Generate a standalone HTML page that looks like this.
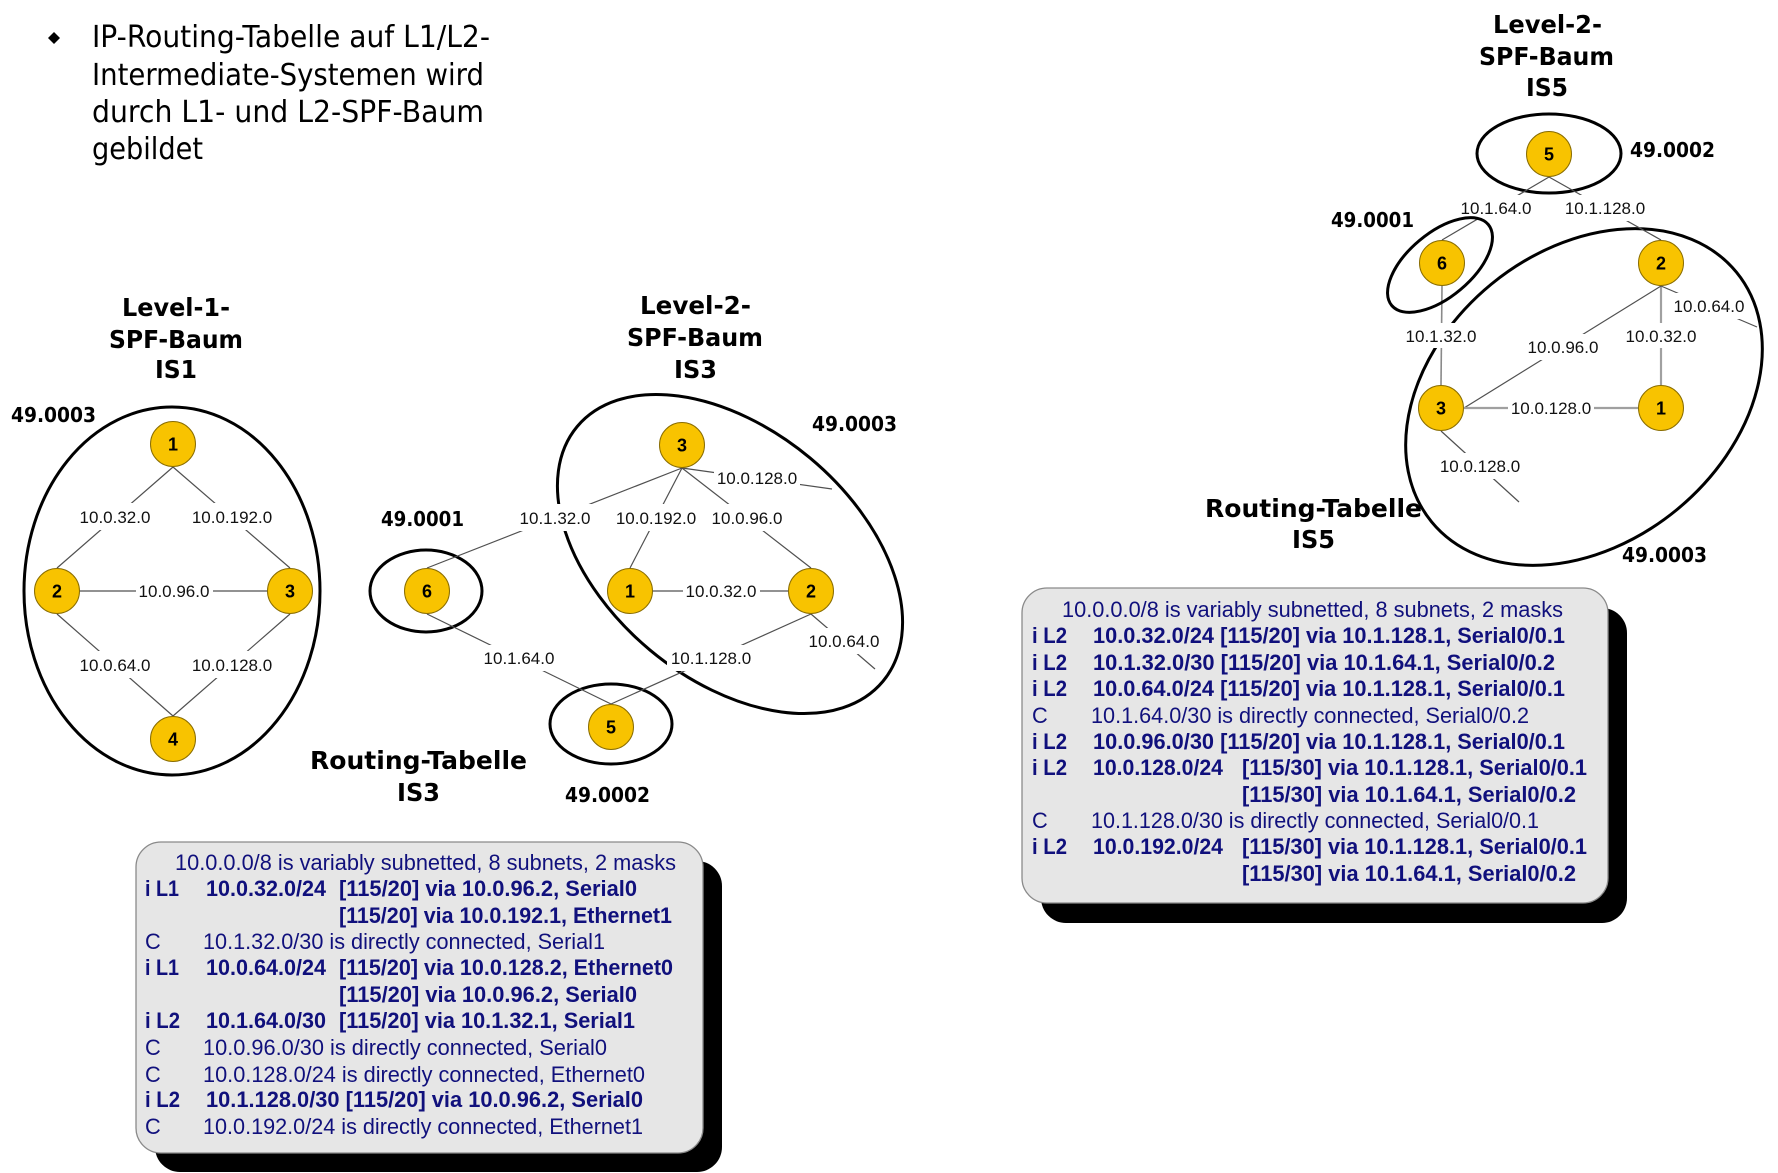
<!DOCTYPE html>
<html>
<head>
<meta charset="utf-8">
<style>
  html, body { margin: 0; padding: 0; background: #fff; }
  svg { display: block; }
  .lbl { font-family: "Liberation Sans", Arial, sans-serif; font-size: 17px; fill: #111; text-anchor: middle; }
  .num { font-family: "Liberation Sans", Arial, sans-serif; font-size: 18px; font-weight: bold; fill: #000; text-anchor: middle; }
  .hd { font-family: "DejaVu Sans", "Liberation Sans", sans-serif; font-size: 25px; font-weight: bold; fill: #000; }
  .area { font-family: "DejaVu Sans", "Liberation Sans", sans-serif; font-size: 20px; font-weight: bold; fill: #000; }
  .title { font-family: "DejaVu Sans", "Liberation Sans", sans-serif; font-size: 30px; fill: #000; }
  .bx { font-family: "Liberation Sans", Arial, sans-serif; font-size: 21.8px; fill: #10107c; }
  .bb { font-family: "Liberation Sans", Arial, sans-serif; font-size: 21.8px; font-weight: bold; fill: #10107c; }
  .edge { stroke: #505050; stroke-width: 1.2; fill: none; }
  .edgeg { stroke: #a0a0a0; stroke-width: 2.2; fill: none; }
  .ell { stroke: #000; stroke-width: 3; fill: none; }
  .node { fill: #F8C300; stroke: #8a6d00; stroke-width: 1; }
  .lr { fill: #fff; }
</style>
</head>
<body>
<svg width="1778" height="1173" viewBox="0 0 1778 1173" xmlns="http://www.w3.org/2000/svg">
  <rect x="0" y="0" width="1778" height="1173" fill="#fff"/>

  <!-- Title -->
  <polygon points="54,32 60,38 54,44 48,38" fill="#000"/>
  <text class="title" x="92" y="47" textLength="398" lengthAdjust="spacingAndGlyphs">IP-Routing-Tabelle auf L1/L2-</text>
  <text class="title" x="92" y="85" textLength="392" lengthAdjust="spacingAndGlyphs">Intermediate-Systemen wird</text>
  <text class="title" x="92" y="122" textLength="392" lengthAdjust="spacingAndGlyphs">durch L1- und L2-SPF-Baum</text>
  <text class="title" x="92" y="159" textLength="111" lengthAdjust="spacingAndGlyphs">gebildet</text>

  <!-- Headings -->
  <text class="hd" x="122" y="316" textLength="108" lengthAdjust="spacingAndGlyphs">Level-1-</text>
  <text class="hd" x="109" y="348" textLength="134" lengthAdjust="spacingAndGlyphs">SPF-Baum</text>
  <text class="hd" x="155" y="378" textLength="42" lengthAdjust="spacingAndGlyphs">IS1</text>

  <text class="hd" x="640" y="314" textLength="111" lengthAdjust="spacingAndGlyphs">Level-2-</text>
  <text class="hd" x="627" y="346" textLength="136" lengthAdjust="spacingAndGlyphs">SPF-Baum</text>
  <text class="hd" x="674" y="378" textLength="43" lengthAdjust="spacingAndGlyphs">IS3</text>

  <text class="hd" x="1493" y="33" textLength="109" lengthAdjust="spacingAndGlyphs">Level-2-</text>
  <text class="hd" x="1479" y="65" textLength="135" lengthAdjust="spacingAndGlyphs">SPF-Baum</text>
  <text class="hd" x="1526" y="96" textLength="42" lengthAdjust="spacingAndGlyphs">IS5</text>

  <text class="hd" x="310" y="769" textLength="217" lengthAdjust="spacingAndGlyphs">Routing-Tabelle</text>
  <text class="hd" x="397" y="801" textLength="43" lengthAdjust="spacingAndGlyphs">IS3</text>

  <text class="hd" x="1205" y="517" textLength="217" lengthAdjust="spacingAndGlyphs">Routing-Tabelle</text>
  <text class="hd" x="1292" y="548" textLength="43" lengthAdjust="spacingAndGlyphs">IS5</text>

  <!-- Area labels -->
  <text class="area" x="11" y="422" textLength="85" lengthAdjust="spacingAndGlyphs">49.0003</text>
  <text class="area" x="381" y="526" textLength="83" lengthAdjust="spacingAndGlyphs">49.0001</text>
  <text class="area" x="812" y="431" textLength="85" lengthAdjust="spacingAndGlyphs">49.0003</text>
  <text class="area" x="565" y="802" textLength="85" lengthAdjust="spacingAndGlyphs">49.0002</text>
  <text class="area" x="1630" y="157" textLength="85" lengthAdjust="spacingAndGlyphs">49.0002</text>
  <text class="area" x="1331" y="227" textLength="83" lengthAdjust="spacingAndGlyphs">49.0001</text>
  <text class="area" x="1622" y="562" textLength="85" lengthAdjust="spacingAndGlyphs">49.0003</text>

  <!-- Ellipses (area boundaries) -->
  <ellipse class="ell" cx="172" cy="591" rx="148" ry="184"/>
  <ellipse class="ell" cx="426" cy="591" rx="56" ry="41"/>
  <ellipse class="ell" cx="611" cy="724" rx="61" ry="40"/>
  <ellipse class="ell" cx="730" cy="554" rx="199" ry="125" transform="rotate(39.8 730 554)"/>
  <ellipse class="ell" cx="1549" cy="153.5" rx="72" ry="39.5"/>
  <ellipse class="ell" cx="1584" cy="397" rx="197" ry="146" transform="rotate(-39.3 1584 397)"/>

  <!-- Left graph edges -->
  <line class="edge" x1="173" y1="467" x2="57" y2="568"/>
  <line class="edge" x1="173" y1="467" x2="290" y2="568"/>
  <line class="edge" x1="57" y1="591" x2="290" y2="591"/>
  <line class="edge" x1="57" y1="614" x2="173" y2="716"/>
  <line class="edge" x1="290" y1="614" x2="173" y2="716"/>

  <!-- Middle graph edges -->
  <line class="edge" x1="682" y1="468" x2="427" y2="568"/>
  <line class="edge" x1="682" y1="468" x2="630" y2="568"/>
  <line class="edge" x1="682" y1="468" x2="811" y2="568"/>
  <line class="edge" x1="682" y1="468" x2="832" y2="489"/>
  <line class="edge" x1="630" y1="591" x2="811" y2="591"/>
  <line class="edge" x1="811" y1="614" x2="875" y2="669"/>
  <line class="edge" x1="811" y1="614" x2="611" y2="704"/>
  <line class="edge" x1="427" y1="614" x2="611" y2="704"/>

  <!-- Right graph edges -->
  <line class="edge" x1="1549" y1="177" x2="1442" y2="240"/>
  <line class="edge" x1="1549" y1="177" x2="1661" y2="240"/>
  <line x1="1442" y1="286" x2="1441" y2="385" stroke="#8a8a8a" stroke-width="1.6"/>
  <line class="edgeg" x1="1661" y1="286" x2="1661" y2="385"/>
  <line class="edge" x1="1661" y1="286" x2="1464" y2="408"/>
  <line class="edge" x1="1661" y1="286" x2="1757" y2="327"/>
  <line class="edgeg" x1="1464" y1="408" x2="1638" y2="408"/>
  <line class="edge" x1="1441" y1="431" x2="1519" y2="502"/>

  <!-- Label backgrounds -->
  <g class="lr">
    <!-- left -->
    <rect x="77" y="503" width="77" height="27"/>
    <rect x="189" y="503" width="86" height="27"/>
    <rect x="136" y="578" width="77" height="26"/>
    <rect x="77" y="651" width="77" height="27"/>
    <rect x="189" y="651" width="86" height="27"/>
    <!-- middle -->
    <rect x="517" y="504" width="77" height="27"/>
    <rect x="613" y="504" width="86" height="27"/>
    <rect x="709" y="504" width="77" height="27"/>
    <rect x="714" y="465" width="86" height="26"/>
    <rect x="683" y="578" width="77" height="26"/>
    <rect x="806" y="628" width="77" height="26"/>
    <rect x="667" y="645" width="88" height="26"/>
    <rect x="481" y="645" width="77" height="26"/>
    <!-- right -->
    <rect x="1458" y="195" width="77" height="24"/>
    <rect x="1562" y="195" width="86" height="26"/>
    <rect x="1403" y="323" width="77" height="25"/>
    <rect x="1623" y="323" width="77" height="25"/>
    <rect x="1525" y="334" width="77" height="26"/>
    <rect x="1671" y="293" width="77" height="26"/>
    <rect x="1508" y="395" width="86" height="26"/>
    <rect x="1437" y="453" width="86" height="26"/>
  </g>

  <!-- ellipse around 6 (right) drawn after label backgrounds -->
  <ellipse class="ell" cx="1440" cy="265" rx="63" ry="32" transform="rotate(-40 1440 265)"/>

  <!-- Edge labels -->
  <text class="lbl" x="115" y="523">10.0.32.0</text>
  <text class="lbl" x="232" y="523">10.0.192.0</text>
  <text class="lbl" x="174" y="597">10.0.96.0</text>
  <text class="lbl" x="115" y="671">10.0.64.0</text>
  <text class="lbl" x="232" y="671">10.0.128.0</text>

  <text class="lbl" x="555" y="524">10.1.32.0</text>
  <text class="lbl" x="656" y="524">10.0.192.0</text>
  <text class="lbl" x="747" y="524">10.0.96.0</text>
  <text class="lbl" x="757" y="484">10.0.128.0</text>
  <text class="lbl" x="721" y="597">10.0.32.0</text>
  <text class="lbl" x="844" y="647">10.0.64.0</text>
  <text class="lbl" x="711" y="664">10.1.128.0</text>
  <text class="lbl" x="519" y="664">10.1.64.0</text>

  <text class="lbl" x="1496" y="214">10.1.64.0</text>
  <text class="lbl" x="1605" y="214">10.1.128.0</text>
  <text class="lbl" x="1441" y="342">10.1.32.0</text>
  <text class="lbl" x="1661" y="342">10.0.32.0</text>
  <text class="lbl" x="1563" y="353">10.0.96.0</text>
  <text class="lbl" x="1709" y="312">10.0.64.0</text>
  <text class="lbl" x="1551" y="414">10.0.128.0</text>
  <text class="lbl" x="1480" y="472">10.0.128.0</text>

  <!-- Nodes -->
  <g>
    <circle class="node" cx="173" cy="444" r="22.5"/><text class="num" x="173" y="450.5">1</text>
    <circle class="node" cx="57" cy="591" r="22.5"/><text class="num" x="57" y="597.5">2</text>
    <circle class="node" cx="290" cy="591" r="22.5"/><text class="num" x="290" y="597.5">3</text>
    <circle class="node" cx="173" cy="739" r="22.5"/><text class="num" x="173" y="745.5">4</text>

    <circle class="node" cx="682" cy="445" r="22.5"/><text class="num" x="682" y="451.5">3</text>
    <circle class="node" cx="630" cy="591" r="22.5"/><text class="num" x="630" y="597.5">1</text>
    <circle class="node" cx="811" cy="591" r="22.5"/><text class="num" x="811" y="597.5">2</text>
    <circle class="node" cx="427" cy="591" r="22.5"/><text class="num" x="427" y="597.5">6</text>
    <circle class="node" cx="611" cy="727" r="22.5"/><text class="num" x="611" y="733.5">5</text>

    <circle class="node" cx="1549" cy="154" r="22.5"/><text class="num" x="1549" y="160.5">5</text>
    <circle class="node" cx="1442" cy="263" r="22.5"/><text class="num" x="1442" y="269.5">6</text>
    <circle class="node" cx="1661" cy="263" r="22.5"/><text class="num" x="1661" y="269.5">2</text>
    <circle class="node" cx="1441" cy="408" r="22.5"/><text class="num" x="1441" y="414.5">3</text>
    <circle class="node" cx="1661" cy="408" r="22.5"/><text class="num" x="1661" y="414.5">1</text>
  </g>

  <!-- Left routing table box -->
  <rect x="155" y="861" width="567" height="311" rx="25" ry="25" fill="#000"/>
  <rect x="136" y="842" width="567" height="311" rx="25" ry="25" fill="#e6e6e6" stroke="#8a8a8a" stroke-width="1.3"/>

  <text class="bx" x="175" y="870" textLength="501" lengthAdjust="spacingAndGlyphs">10.0.0.0/8 is variably subnetted, 8 subnets, 2 masks</text>

  <text class="bb" x="145" y="896" textLength="34" lengthAdjust="spacingAndGlyphs">i L1</text>
  <text class="bb" x="206" y="896" textLength="120" lengthAdjust="spacingAndGlyphs">10.0.32.0/24</text>
  <text class="bb" x="339" y="896" textLength="298" lengthAdjust="spacingAndGlyphs">[115/20] via 10.0.96.2, Serial0</text>

  <text class="bb" x="339" y="923" textLength="333" lengthAdjust="spacingAndGlyphs">[115/20] via 10.0.192.1, Ethernet1</text>

  <text class="bx" x="145" y="949">C</text>
  <text class="bx" x="203" y="949" textLength="402" lengthAdjust="spacingAndGlyphs">10.1.32.0/30 is directly connected, Serial1</text>

  <text class="bb" x="145" y="975" textLength="34" lengthAdjust="spacingAndGlyphs">i L1</text>
  <text class="bb" x="206" y="975" textLength="120" lengthAdjust="spacingAndGlyphs">10.0.64.0/24</text>
  <text class="bb" x="339" y="975" textLength="334" lengthAdjust="spacingAndGlyphs">[115/20] via 10.0.128.2, Ethernet0</text>

  <text class="bb" x="339" y="1002" textLength="298" lengthAdjust="spacingAndGlyphs">[115/20] via 10.0.96.2, Serial0</text>

  <text class="bb" x="145" y="1028" textLength="35" lengthAdjust="spacingAndGlyphs">i L2</text>
  <text class="bb" x="206" y="1028" textLength="120" lengthAdjust="spacingAndGlyphs">10.1.64.0/30</text>
  <text class="bb" x="339" y="1028" textLength="296" lengthAdjust="spacingAndGlyphs">[115/20] via 10.1.32.1, Serial1</text>

  <text class="bx" x="145" y="1055">C</text>
  <text class="bx" x="203" y="1055" textLength="404" lengthAdjust="spacingAndGlyphs">10.0.96.0/30 is directly connected, Serial0</text>

  <text class="bx" x="145" y="1082">C</text>
  <text class="bx" x="203" y="1082" textLength="442" lengthAdjust="spacingAndGlyphs">10.0.128.0/24 is directly connected, Ethernet0</text>

  <text class="bb" x="145" y="1107" textLength="35" lengthAdjust="spacingAndGlyphs">i L2</text>
  <text class="bb" x="206" y="1107" textLength="437" lengthAdjust="spacingAndGlyphs">10.1.128.0/30 [115/20] via 10.0.96.2, Serial0</text>

  <text class="bx" x="145" y="1134">C</text>
  <text class="bx" x="203" y="1134" textLength="440" lengthAdjust="spacingAndGlyphs">10.0.192.0/24 is directly connected, Ethernet1</text>

  <!-- Right routing table box -->
  <rect x="1041" y="608" width="586" height="315" rx="25" ry="25" fill="#000"/>
  <rect x="1022" y="588" width="586" height="315" rx="25" ry="25" fill="#e6e6e6" stroke="#8a8a8a" stroke-width="1.3"/>

  <text class="bx" x="1062" y="617" textLength="501" lengthAdjust="spacingAndGlyphs">10.0.0.0/8 is variably subnetted, 8 subnets, 2 masks</text>

  <text class="bb" x="1032" y="643" textLength="35" lengthAdjust="spacingAndGlyphs">i L2</text>
  <text class="bb" x="1093" y="643" textLength="472" lengthAdjust="spacingAndGlyphs">10.0.32.0/24 [115/20] via 10.1.128.1, Serial0/0.1</text>

  <text class="bb" x="1032" y="670" textLength="35" lengthAdjust="spacingAndGlyphs">i L2</text>
  <text class="bb" x="1093" y="670" textLength="462" lengthAdjust="spacingAndGlyphs">10.1.32.0/30 [115/20] via 10.1.64.1, Serial0/0.2</text>

  <text class="bb" x="1032" y="696" textLength="35" lengthAdjust="spacingAndGlyphs">i L2</text>
  <text class="bb" x="1093" y="696" textLength="472" lengthAdjust="spacingAndGlyphs">10.0.64.0/24 [115/20] via 10.1.128.1, Serial0/0.1</text>

  <text class="bx" x="1032" y="723">C</text>
  <text class="bx" x="1091" y="723" textLength="438" lengthAdjust="spacingAndGlyphs">10.1.64.0/30 is directly connected, Serial0/0.2</text>

  <text class="bb" x="1032" y="749" textLength="35" lengthAdjust="spacingAndGlyphs">i L2</text>
  <text class="bb" x="1093" y="749" textLength="472" lengthAdjust="spacingAndGlyphs">10.0.96.0/30 [115/20] via 10.1.128.1, Serial0/0.1</text>

  <text class="bb" x="1032" y="775" textLength="35" lengthAdjust="spacingAndGlyphs">i L2</text>
  <text class="bb" x="1093" y="775" textLength="130" lengthAdjust="spacingAndGlyphs">10.0.128.0/24</text>
  <text class="bb" x="1242" y="775" textLength="345" lengthAdjust="spacingAndGlyphs">[115/30] via 10.1.128.1, Serial0/0.1</text>

  <text class="bb" x="1242" y="802" textLength="334" lengthAdjust="spacingAndGlyphs">[115/30] via 10.1.64.1, Serial0/0.2</text>

  <text class="bx" x="1032" y="828">C</text>
  <text class="bx" x="1091" y="828" textLength="448" lengthAdjust="spacingAndGlyphs">10.1.128.0/30 is directly connected, Serial0/0.1</text>

  <text class="bb" x="1032" y="854" textLength="35" lengthAdjust="spacingAndGlyphs">i L2</text>
  <text class="bb" x="1093" y="854" textLength="130" lengthAdjust="spacingAndGlyphs">10.0.192.0/24</text>
  <text class="bb" x="1242" y="854" textLength="345" lengthAdjust="spacingAndGlyphs">[115/30] via 10.1.128.1, Serial0/0.1</text>

  <text class="bb" x="1242" y="881" textLength="334" lengthAdjust="spacingAndGlyphs">[115/30] via 10.1.64.1, Serial0/0.2</text>
</svg>
</body>
</html>
